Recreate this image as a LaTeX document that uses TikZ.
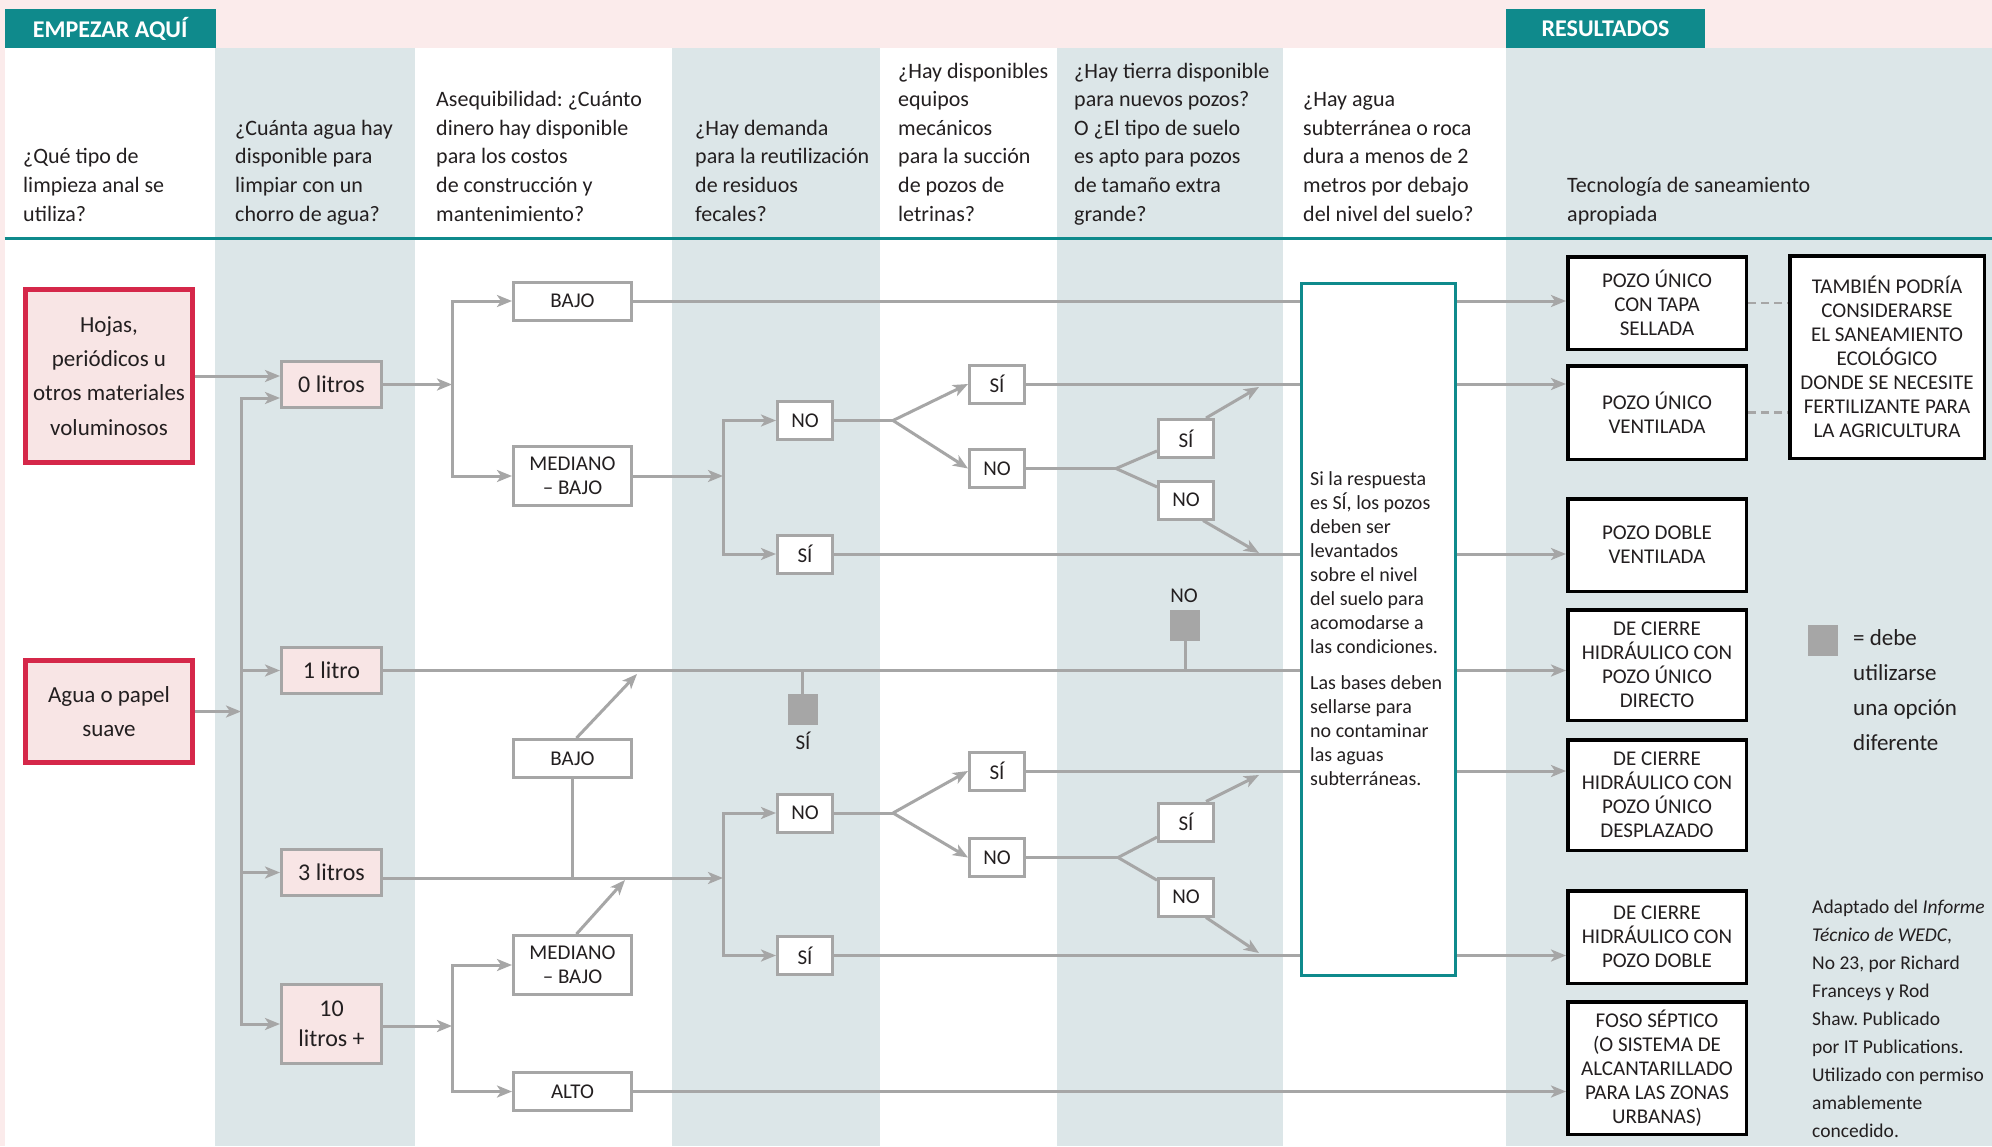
\documentclass[tikz,border=0pt]{standalone}
\usepackage{fontspec}
\setmainfont{Carlito}
\usetikzlibrary{arrows.meta,calc}
\frenchspacing
\definecolor{pinkbg}{HTML}{FBEBEB}
\definecolor{tealc}{HTML}{0F8A8C}
\definecolor{bandc}{HTML}{DCE6E8}
\definecolor{redc}{HTML}{D52749}
\definecolor{pinkfill}{HTML}{F8E5E5}
\definecolor{lgray}{HTML}{A6A6A6}
\definecolor{txt}{HTML}{231F20}
\begin{document}
\frenchspacing
\begin{tikzpicture}[x=1pt,y=-1pt,
  every node/.style={text=txt},
  ln/.style={draw=lgray,line width=3pt},
  arr/.style={ln,-{Stealth[length=15pt,width=12pt,inset=4pt]}},
  dsh/.style={draw=lgray,line width=2.5pt,dash pattern=on 8pt off 5pt},
  tab/.style={fill=tealc,text=white,inner sep=0pt,minimum height=39pt,font=\fontsize{24}{28}\selectfont\bfseries},
  hdr/.style={anchor=base west,align=left,inner sep=0pt,font=\fontsize{22}{28.6}\selectfont},
  redbox/.style={draw=redc,line width=5pt,fill=pinkfill,minimum width=167pt,inner sep=0pt,align=center,font=\fontsize{23}{34.3}\selectfont},
  lbox/.style={draw=lgray,line width=3pt,fill=pinkfill,minimum width=100pt,minimum height=46pt,inner sep=0pt,align=center,font=\fontsize{24}{30}\selectfont},
  sbox/.style={draw=lgray,line width=3pt,fill=white,minimum width=118pt,minimum height=38pt,inner sep=0pt,align=center,font=\fontsize{21}{24}\selectfont},
  yn/.style={sbox,minimum width=55pt},
  rbox/.style={draw=black,line width=3.5pt,fill=white,minimum width=178.5pt,inner sep=0pt,align=center,font=\fontsize{21}{24}\selectfont},
  sq/.style={fill=lgray,minimum width=30pt,minimum height=31pt,inner sep=0pt},
  lab/.style={inner sep=0pt,font=\fontsize{21}{24}\selectfont}
]
\useasboundingbox (0,0) rectangle (1992,1146);
% backgrounds
\fill[pinkbg] (0,0) rectangle (1992,1146);
\fill[white] (4.5,48) rectangle (1992,1146);
\fill[bandc] (215,48) rectangle (415,1146);
\fill[bandc] (672,48) rectangle (880,1146);
\fill[bandc] (1057,48) rectangle (1283,1146);
\fill[bandc] (1506,48) rectangle (1992,1146);
\draw[tealc,line width=3pt] (4.5,238) -- (1992,238);
% tabs
\node[tab,minimum width=211.5pt] (start) at (110.25,28.5) {EMPEZAR AQUÍ};
\node[tab,minimum width=199pt] (res) at (1605.5,28.5) {RESULTADOS};
% headers (anchor = baseline of last line)
\node[hdr] (h1) at (23,221) {¿Qué tipo de\\limpieza anal se\\utiliza?};
\node[hdr] (h2) at (235,221) {¿Cuánta agua hay\\disponible para\\limpiar con un\\chorro de agua?};
\node[hdr] (h3) at (436,221) {Asequibilidad: ¿Cuánto\\dinero hay disponible\\para los costos\\de construcción y\\mantenimiento?};
\node[hdr] (h4) at (695,221) {¿Hay demanda\\para la reutilización\\de residuos\\fecales?};
\node[hdr] (h5) at (898,221) {¿Hay disponibles\\equipos\\mecánicos\\para la succión\\de pozos de\\letrinas?};
\node[hdr] (h6) at (1074,221) {¿Hay tierra disponible\\para nuevos pozos?\\O ¿El tipo de suelo\\es apto para pozos\\de tamaño extra\\grande?};
\node[hdr] (h7) at (1303,221) {¿Hay agua\\subterránea o roca\\dura a menos de 2\\metros por debajo\\del nivel del suelo?};
\node[hdr] (h8) at (1567,221) {Tecnología de saneamiento\\apropiada};
% start boxes
\node[redbox,minimum height=173pt] (hojas) at (109,376) {Hojas,\\periódicos u\\otros materiales\\voluminosos};
\node[redbox,minimum height=102pt] (agua) at (109,711.5) {Agua o papel\\suave};
% water boxes
\node[lbox] (l0) at (331.5,384.5) {0 litros};
\node[lbox] (l1) at (331.5,670.5) {1 litro};
\node[lbox] (l3) at (331.5,872.5) {3 litros};
\node[lbox,minimum height=79pt] (l10) at (331.5,1024) {10\\litros +};
% cost boxes
\node[sbox] (bajo1) at (572.5,301) {BAJO};
\node[sbox,minimum height=59pt] (med1) at (572.5,476) {MEDIANO\\– BAJO};
\node[sbox] (bajo2) at (572.5,758.5) {BAJO};
\node[sbox,minimum height=59pt] (med2) at (572.5,965) {MEDIANO\\– BAJO};
\node[sbox] (alto) at (572.5,1091.5) {ALTO};
% yes/no boxes
\node[yn] (no1) at (805,420.5) {NO};
\node[yn] (si1) at (805,554) {SÍ};
\node[yn] (no2) at (805,813) {NO};
\node[yn] (si2) at (805,955.5) {SÍ};
\node[yn] (si3) at (997,384) {SÍ};
\node[yn] (no3) at (997,468.5) {NO};
\node[yn] (si4) at (997,771) {SÍ};
\node[yn] (no4) at (997,857.5) {NO};
\node[yn] (si5) at (1186,438.5) {SÍ};
\node[yn] (no5) at (1186,500) {NO};
\node[yn] (si6) at (1186,822) {SÍ};
\node[yn] (no6) at (1186,897) {NO};
% teal box
\node[draw=tealc,line width=3pt,fill=white,minimum width=154pt,minimum height=692pt,inner sep=0pt] (tb) at (1378.5,629.5) {};
\node[anchor=base west,align=left,inner sep=0pt,font=\fontsize{20}{24}\selectfont] (tbt) at (1310,785) {Si la respuesta\\es SÍ, los pozos\\deben ser\\levantados\\sobre el nivel\\del suelo para\\acomodarse a\\las condiciones.\\[12pt]Las bases deben\\sellarse para\\no contaminar\\las aguas\\subterráneas.};
% results
\node[rbox,minimum height=92.5pt] (r1) at (1657,303) {POZO ÚNICO\\CON TAPA\\SELLADA};
\node[rbox,minimum height=93.5pt] (r2) at (1657,412.5) {POZO ÚNICO\\VENTILADA};
\node[rbox,minimum height=92.5pt] (r3) at (1657,545) {POZO DOBLE\\VENTILADA};
\node[rbox,minimum height=110.5pt] (r4) at (1657,665) {DE CIERRE\\HIDRÁULICO CON\\POZO ÚNICO\\DIRECTO};
\node[rbox,minimum height=110.5pt] (r5) at (1657,795) {DE CIERRE\\HIDRÁULICO CON\\POZO ÚNICO\\DESPLAZADO};
\node[rbox,minimum height=92.5pt] (r6) at (1657,937) {DE CIERRE\\HIDRÁULICO CON\\POZO DOBLE};
\node[rbox,minimum height=132.5pt] (r7) at (1657,1068) {FOSO SÉPTICO\\(O SISTEMA DE\\ALCANTARILLADO\\PARA LAS ZONAS\\URBANAS)};
\node[rbox,minimum width=194.5pt,minimum height=202.5pt] (tambien) at (1887,357) {TAMBIÉN PODRÍA\\CONSIDERARSE\\EL SANEAMIENTO\\ECOLÓGICO\\DONDE SE NECESITE\\FERTILIZANTE PARA\\LA AGRICULTURA};
% legend and credits
\node[sq] (legsq) at (1823,640.5) {};
\node[anchor=base west,align=left,inner sep=0pt,font=\fontsize{23}{35}\selectfont] (legtxt) at (1853,750) {= debe\\utilizarse\\una opción\\diferente};
\node[anchor=base west,align=left,inner sep=0pt,font=\fontsize{19.5}{28}\selectfont] (cred) at (1812,1137) {Adaptado del \textit{Informe}\\\textit{Técnico de WEDC},\\No 23, por Richard\\Franceys y Rod\\Shaw. Publicado\\por IT Publications.\\Utilizado con permiso\\amablemente\\concedido.};
% grey squares
\node[sq] (sq1) at (1185,625.5) {};
\node[lab] (nolab) at (1184,596) {NO};
\node[sq] (sq2) at (802.5,709.5) {};
\node[lab] (silab) at (803,741) {SÍ};
% coordinates
\coordinate (vl0) at (241,398);
\coordinate (vl10) at (241,1024);
\coordinate (s1) at (452,384.5);
\coordinate (s2) at (723,476);
\coordinate (s3) at (723,878);
\coordinate (s4) at (452,1026);
\coordinate (f1) at (893,420.5);
\coordinate (f2) at (1116,468.5);
\coordinate (f3) at (893,813);
\coordinate (f4) at (1118,857.5);
\coordinate (a1) at (1259,387);
\coordinate (a2) at (1259,553);
\coordinate (a3) at (1259,775);
\coordinate (a4) at (1259,953);
\coordinate (a5) at (637,674);
\coordinate (a6) at (625,880);
% left connectors
\draw[arr] (hojas.east) -- (hojas.east -| l0.west);
\draw[arr] (agua.east) -- (agua.east -| vl0);
\draw[arr] (vl10) -- (vl0) -- (vl0 -| l0.west);
\draw[arr] (vl0) -- (vl10) -- (l10.west);
\draw[arr] (vl0 |- l1) -- (l1.west);
\draw[arr] (vl0 |- l3) -- (l3.west);
% upper tree
\draw[arr] (l0.east) -- (s1);
\draw[arr] (s1 |- med1) -- (s1 |- bajo1) -- (bajo1.west);
\draw[arr] (s1 |- bajo1) -- (s1 |- med1) -- (med1.west);
\draw[ln] (bajo1.east) -- (bajo1.east -| tb.west);
\draw[arr] (tb.east |- bajo1) -- (bajo1 -| r1.west);
\draw[arr] (med1.east) -- (s2);
\draw[arr] (s2 |- si1) -- (s2 |- no1) -- (no1.west);
\draw[arr] (s2 |- no1) -- (s2 |- si1) -- (si1.west);
\draw[ln] (si1.east) -- (si1.east -| tb.west);
\draw[arr] (tb.east |- si1) -- (si1 -| r3.west);
\draw[ln] (no1.east) -- (f1);
\draw[arr] (f1) -- (si3.west);
\draw[arr] (f1) -- (no3.west);
\draw[ln] (si3.east) -- (si3.east -| tb.west);
\draw[arr] (tb.east |- si3) -- (si3 -| r2.west);
\draw[ln] (no3.east) -- (f2);
\draw[ln] (f2) -- (si5);
\draw[ln] (f2) -- (no5);
\draw[arr] ([xshift=-9pt]si5.north east) -- (a1);
\draw[arr] ([xshift=-12pt]no5.south east) -- (a2);
% 1 litro
\draw[ln] (l1.east) -- (l1.east -| tb.west);
\draw[arr] (tb.east |- l1) -- (l1 -| r4.west);
\draw[ln] (sq1.south) -- (sq1 |- l1);
\draw[ln] (sq2 |- l1) -- (sq2.north);
% lower tree
\draw[arr] (l3.east |- s3) -- (s3);
\draw[ln] (bajo2.south) -- (bajo2.south |- s3);
\draw[arr] ([xshift=4pt]bajo2.north) -- (a5);
\draw[arr] ([xshift=4pt]med2.north) -- (a6);
\draw[arr] (s3 |- si2) -- (s3 |- no2) -- (no2.west);
\draw[arr] (s3 |- no2) -- (s3 |- si2) -- (si2.west);
\draw[ln] (si2.east) -- (si2.east -| tb.west);
\draw[arr] (tb.east |- si2) -- (si2 -| r6.west);
\draw[ln] (no2.east) -- (f3);
\draw[arr] (f3) -- (si4.west);
\draw[arr] (f3) -- (no4.west);
\draw[ln] (si4.east) -- (si4.east -| tb.west);
\draw[arr] (tb.east |- si4) -- (si4 -| r5.west);
\draw[ln] (no4.east) -- (f4);
\draw[ln] (f4) -- (si6);
\draw[ln] (f4) -- (no6);
\draw[arr] ([xshift=-9pt]si6.north east) -- (a3);
\draw[arr] ([xshift=-9pt]no6.south east) -- (a4);
% 10 litros
\draw[arr] (l10.east |- s4) -- (s4);
\draw[arr] (s4 |- alto) -- (s4 |- med2) -- (med2.west);
\draw[arr] (s4 |- med2) -- (s4 |- alto) -- (alto.west);
\draw[arr] (alto.east) -- (alto.east -| r7.west);
% dashed
\draw[dsh] (r1.east) -- (r1.east -| tambien.west);
\draw[dsh] (r2.east) -- (r2.east -| tambien.west);
\end{tikzpicture}
\end{document}
